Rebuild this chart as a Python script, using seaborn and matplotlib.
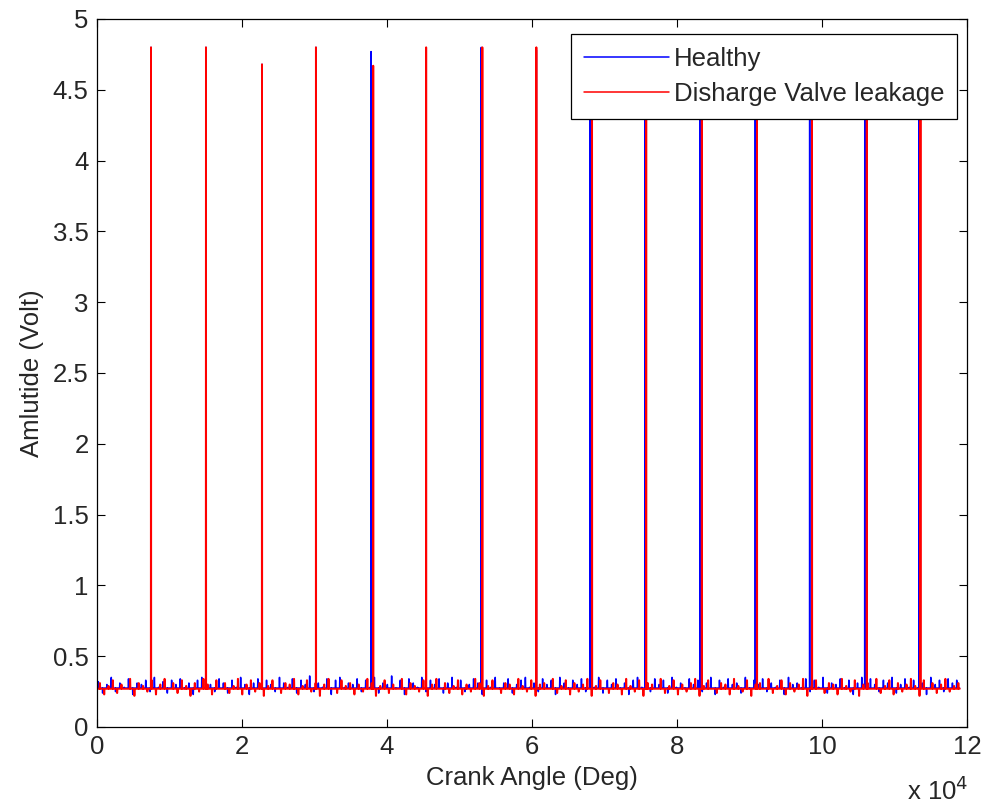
import numpy as np
import pandas as pd
import matplotlib
matplotlib.use("Agg")
import matplotlib.pyplot as plt
from matplotlib.ticker import FuncFormatter, MultipleLocator
import seaborn as sns

# Spike (valve event) positions in crank degrees and peak amplitudes in volts
healthy_spike_deg = [7450, 15030, 22760, 30200, 37800, 45400, 53000, 60600,
                     68000, 75600, 83200, 90800, 98300, 105900, 113400]
healthy_spike_amp = [4.80, 4.80, 4.68, 4.80, 4.77, 4.78, 4.80, 4.78,
                     4.78, 4.78, 4.78, 4.78, 4.78, 4.78, 4.78]
leak_spike_deg = [7450, 15030, 22760, 30200, 38100, 45400, 53150, 60600,
                  68280, 75750, 83430, 91030, 98620, 106180, 113580]
leak_spike_amp = [4.80, 4.80, 4.68, 4.80, 4.67, 4.80, 4.80, 4.80,
                  4.78, 4.78, 4.78, 4.78, 4.78, 4.78, 4.78]

# Baseline level and noise glitch tips (hundredths of a volt)
healthy_base = 0.275
leak_base = 0.27
healthy_noise_cv = [
    32, 24, 30, 35, 25, 31, 28, 34, 23, 31, 30, 33, 25, 35, 28, 32, 24, 33, 30, 34,
    27, 31, 23, 33, 35, 28, 30, 25, 34, 31, 24, 33, 28, 35, 30, 23, 31, 34, 27, 33,
    30, 25, 35, 31, 28, 34, 24, 33, 30, 36, 25, 31, 28, 34, 23, 33, 35, 27, 31, 30,
    34, 25, 33, 28, 35, 24, 31, 30, 36, 27, 33, 23, 34, 31, 28, 35, 25, 33, 30, 34,
    24, 31, 35, 28, 33, 25, 30, 34, 31, 23, 33, 28, 35, 27, 31, 34, 24, 30, 33, 35,
    28, 31, 25, 34, 30, 33, 23, 35, 31, 27, 33, 30, 34, 25, 31, 28, 35, 24, 33, 30,
    34, 27, 31, 23, 33, 35, 28, 31, 25, 34, 30, 33, 24, 35, 28, 31, 27, 34, 30, 33,
    25, 31, 35, 23, 33, 28, 34, 30, 31, 24, 35, 27, 33, 30, 34, 25, 31, 28, 33, 23,
    35, 30, 31, 27, 34, 25, 33, 28, 35, 24, 31, 30, 34, 27, 33, 23, 31, 35, 28, 34,
    30, 25, 33, 31, 35, 24, 30, 34, 28, 33, 27, 31, 23, 35, 30, 33, 25, 34, 31, 33,
]
leak_noise_cv = [
    31, 23, 29, 33, 24, 30, 27, 34, 22, 31, 29, 25, 33, 23, 30, 34, 27, 31, 24, 33,
    29, 22, 31, 25, 34, 30, 23, 33, 27, 31, 24, 29, 34, 23, 30, 33, 25, 31, 22, 29,
    33, 27, 24, 31, 30, 34, 23, 29, 33, 25, 31, 22, 30, 34, 27, 24, 33, 29, 31, 23,
    30, 25, 34, 31, 22, 29, 33, 24, 30, 27, 34, 23, 31, 29, 25, 33, 22, 30, 34, 27,
    31, 24, 29, 33, 23, 30, 25, 34, 31, 22, 29, 33, 27, 24, 31, 30, 23, 34, 29, 25,
    33, 22, 30, 31, 27, 34, 24, 29, 33, 23, 31, 25, 30, 34, 22, 29, 33, 27, 24, 31,
    30, 23, 34, 29, 25, 33, 22, 31, 30, 27, 34, 24, 29, 33, 23, 30, 25, 31, 34, 22,
    29, 33, 27, 24, 31, 30, 23, 34, 29, 25, 33, 22, 30, 31, 27, 34, 24, 29, 33, 23,
    31, 25, 30, 34, 22, 29, 33, 27, 24, 31, 30, 23, 34, 29, 25, 33, 22, 30, 31, 27,
    34, 24, 29, 33, 23, 31, 25, 30, 34, 29, 22, 33, 27, 31, 24, 30, 34, 25, 29, 31,
]
end_deg = 119000
series_names = ["Healthy", "Disharge Valve leakage"]


def build_signal(base, noise_cv, spike_deg, spike_amp, shift):
    # each glitch / spike becomes a thin vertical excursion from the baseline
    step = end_deg / len(noise_cv)
    pts = [(0.0, base), (float(end_deg), base)]
    for i, v in enumerate(noise_cv):
        xg = i * step + shift
        pts += [(xg - 40, base), (xg - 10, v / 100.0), (xg + 10, v / 100.0), (xg + 40, base)]
    for xs, h in zip(spike_deg, spike_amp):
        pts += [(xs - 20, base), (xs, h), (xs + 20, base)]
    pts.sort(key=lambda p: p[0])
    return pts


rows = []
for name, base, noise, sd, sa, shift in [
    (series_names[0], healthy_base, healthy_noise_cv, healthy_spike_deg, healthy_spike_amp, 180),
    (series_names[1], leak_base, leak_noise_cv, leak_spike_deg, leak_spike_amp, 400),
]:
    for x, y in build_signal(base, noise, sd, sa, shift):
        rows.append({"angle": x, "amp": y, "series": name})
df = pd.DataFrame(rows)

sns.set_style("ticks")
plt.rcParams["font.family"] = ["Liberation Sans", "DejaVu Sans"]
plt.rcParams["xtick.direction"] = "in"
plt.rcParams["ytick.direction"] = "in"

fig = plt.figure(figsize=(9.84, 8.08), dpi=100)
ax = fig.add_axes([97 / 984, 1 - 727 / 808, 870 / 984, 708 / 808])

sns.lineplot(data=df, x="angle", y="amp", hue="series", hue_order=series_names,
             palette={series_names[0]: "#0000ff", series_names[1]: "#ff0000"},
             estimator=None, sort=False, linewidth=1.1, ax=ax)
# the leakage trace sits as a heavier band on the baseline
ax.lines[1].set_linewidth(1.4)

ax.set_xlim(0, 120000)
ax.set_ylim(0, 5)
ax.xaxis.set_major_locator(MultipleLocator(20000))
ax.yaxis.set_major_locator(MultipleLocator(0.5))
ax.xaxis.set_major_formatter(FuncFormatter(lambda v, p: f"{v / 1e4:g}"))
ax.yaxis.set_major_formatter(FuncFormatter(lambda v, p: f"{v:g}"))
ax.tick_params(axis="both", labelsize=18.5, length=6, width=0.8, color="black",
               top=True, right=True, pad=6)
for s in ax.spines.values():
    s.set_color("black")
    s.set_linewidth(0.9)

ax.set_xlabel("Crank Angle (Deg)", fontsize=18.5, labelpad=5)
ax.set_ylabel("Amlutide (Volt)", fontsize=18.5, labelpad=6)
fig.text(907 / 984, 0.004, "x 10$^4$", fontsize=18.5, ha="left", va="bottom")

leg = ax.legend(loc="upper right", bbox_to_anchor=(0.9885, 0.9788), borderaxespad=0,
                fontsize=18.5, fancybox=False, framealpha=1, edgecolor="black",
                handlelength=3.3, handletextpad=0.2, labelspacing=0.45, borderpad=0.5)
leg.get_frame().set_linewidth(0.9)
for h in leg.get_lines():
    h.set_linewidth(1.1)

fig.savefig("out.png", dpi=100)
